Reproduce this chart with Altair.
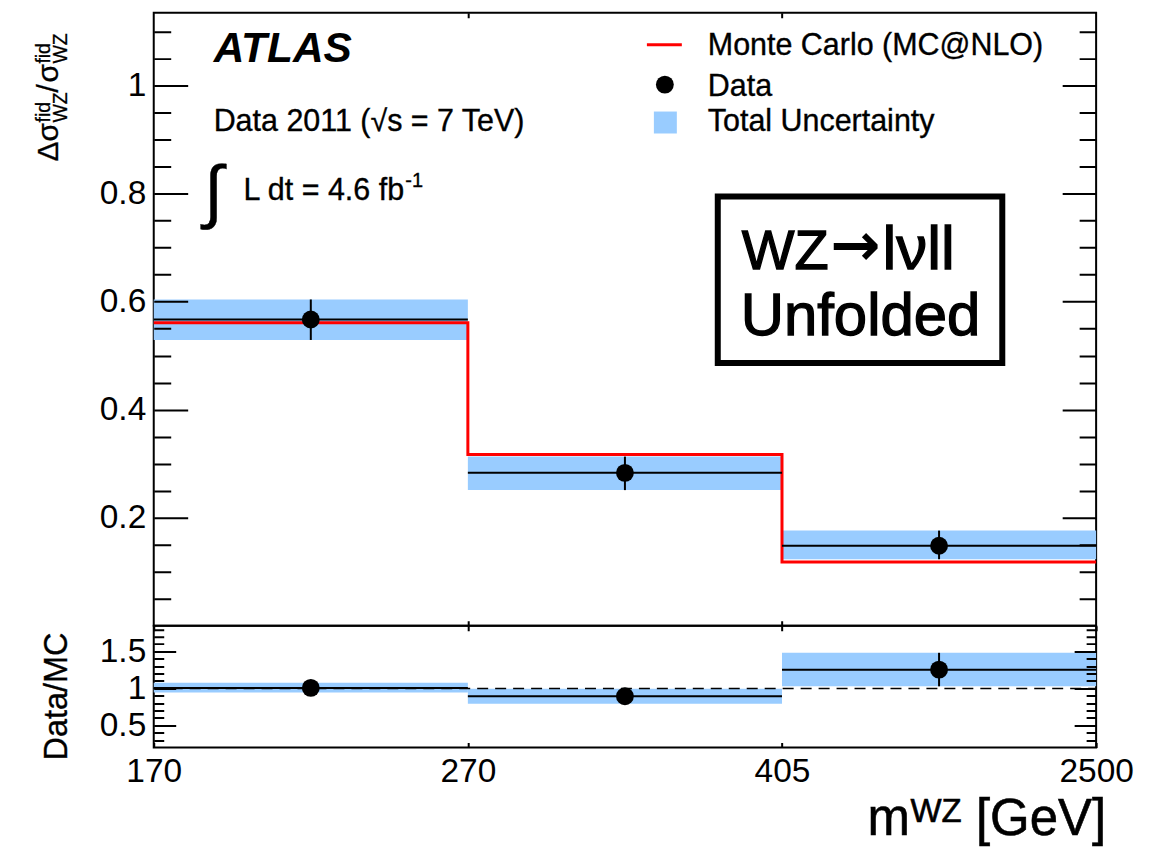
import json
import altair as alt
import pandas as pd

# ---------------- data ----------------
edge_labels = ["170", "270", "405", "2500"]
edges = [0, 1, 2, 3]
bin_lo = [0, 1, 2]
bin_hi = [1, 2, 3]
bin_mid = [0.5, 1.5, 2.5]
data_val = [0.567, 0.283, 0.148]
data_lo = [0.529, 0.251, 0.123]
data_hi = [0.604, 0.313, 0.176]
mc_val = [0.561, 0.317, 0.118]
ratio_val = [1.007, 0.893, 1.254]
ratio_lo = [0.945, 0.793, 1.028]
ratio_hi = [1.078, 0.995, 1.482]
ratio_ref = [1.0]
top_ticks = [0.05, 0.1, 0.15, 0.2, 0.25, 0.3, 0.35, 0.4, 0.45, 0.5, 0.55,
             0.6, 0.65, 0.7, 0.75, 0.8, 0.85, 0.9, 0.95, 1.0, 1.05, 1.1]
ratio_ticks = [0.3, 0.4, 0.5, 0.6, 0.7, 0.8, 0.9, 1.0, 1.1, 1.2, 1.3, 1.4,
               1.5, 1.6, 1.7, 1.8]

# ---------------- layout ----------------
FONT = "Liberation Sans"
W = 944
H_TOP = 614
H_BOT = 122
LEFT = 153
TOP = 11
BOT0 = TOP + H_TOP
BAND = "#99ccff"
LABEL_SIZE = 33.5


def tx(x):
    return x - LEFT


def ty(y):
    return y - TOP


def by(y):
    return y - BOT0


df = pd.DataFrame({"lo": bin_lo, "hi": bin_hi, "mid": bin_mid,
                   "val": data_val, "dlo": data_lo, "dhi": data_hi,
                   "r": ratio_val, "rlo": ratio_lo, "rhi": ratio_hi})
df_mc = pd.DataFrame({"edge": edges, "mc": mc_val + [mc_val[-1]]})
df_ref = pd.DataFrame({"lo": [edges[0]], "hi": [edges[-1]], "ref": ratio_ref})
one = pd.DataFrame({"a": [0]})


def dash(length, size):
    return [size, length - 2 * size, size, 0]


major_top = "abs(datum.value*5 - round(datum.value*5)) < 0.001"
major_ratio = "abs(datum.value*2 - round(datum.value*2)) < 0.001"

xs = alt.Scale(domain=[0, 3], nice=False, zero=False)
ys_top = alt.Scale(domain=[0, 1.135], nice=False, zero=False)
ys_bot = alt.Scale(domain=[0.2, 1.85], nice=False, zero=False)

common_axis = dict(ticks=False, tickSize=0, domain=False, labelOverlap=False,
                   grid=True, gridColor="black", gridWidth=2, gridOpacity=1,
                   labelFont=FONT, labelColor="black", title="", zindex=1)

top_x_axis = alt.Axis(values=[1, 2], labels=False,
                      gridDash=dash(H_TOP, 5), **common_axis)
bot_x_axis = alt.Axis(values=edges, labelFlush=False,
                      labelExpr=json.dumps(edge_labels) + "[datum.value]",
                      labelFontSize=LABEL_SIZE, labelPadding=8,
                      gridDash=dash(H_BOT, 5), **common_axis)
top_y_axis = alt.Axis(values=top_ticks, format="~g",
                      labelExpr=major_top + " ? datum.label : ''",
                      labelFontSize=LABEL_SIZE, labelPadding=8,
                      gridDash={"condition": {"test": major_top, "value": dash(W, 34)},
                                "value": dash(W, 17)},
                      **common_axis)
bot_y_axis = alt.Axis(values=ratio_ticks, format="~g",
                      labelExpr=major_ratio + " ? datum.label : ''",
                      labelFontSize=LABEL_SIZE, labelPadding=8,
                      gridDash={"condition": {"test": major_ratio, "value": dash(W, 22)},
                                "value": dash(W, 10)},
                      **common_axis)


def TX(f):
    return alt.X(f, type="quantitative", scale=xs, axis=top_x_axis)


def TY(f):
    return alt.Y(f, type="quantitative", scale=ys_top, axis=top_y_axis)


def BX(f):
    return alt.X(f, type="quantitative", scale=xs, axis=bot_x_axis)


def BY(f):
    return alt.Y(f, type="quantitative", scale=ys_bot, axis=bot_y_axis)


def txt(s, x, y, size, align="left", angle=0, font=FONT, **kw):
    return alt.Chart(one).mark_text(
        text=s, font=font, fontSize=size, align=align, baseline="alphabetic",
        angle=angle, color="black", **kw
    ).encode(x=alt.value(x), y=alt.value(y))


# ---------------- top panel ----------------
top_bounds = alt.Chart(one).mark_rect(fillOpacity=0, strokeOpacity=0).encode(
    x=alt.value(-LEFT), x2=alt.value(1168 - LEFT), y=alt.value(-TOP), y2=alt.value(H_TOP))

t_band = alt.Chart(df).mark_rect(color=BAND).encode(
    x=TX("lo"), x2="hi", y=TY("dlo"), y2="dhi")
t_mc = alt.Chart(df_mc).mark_line(color="#ff0000", strokeWidth=3,
                                  interpolate="step-after").encode(
    x=TX("edge"), y=TY("mc"))
t_h = alt.Chart(df).mark_rule(color="black", strokeWidth=2).encode(
    x=TX("lo"), x2="hi", y=TY("val"))
t_v = alt.Chart(df).mark_rule(color="black", strokeWidth=2).encode(
    x=TX("mid"), y=TY("dlo"), y2="dhi")
t_pt = alt.Chart(df).mark_circle(size=320, color="black", opacity=1).encode(
    x=TX("mid"), y=TY("val"))

# legend
THIN = dict(stroke="black", strokeWidth=0.35)
leg_line = alt.Chart(one).mark_rule(color="#ff0000", strokeWidth=3).encode(
    x=alt.value(tx(647)), x2=alt.value(tx(682)), y=alt.value(ty(43)))
leg_dot = alt.Chart(one).mark_circle(size=320, color="black", opacity=1).encode(
    x=alt.value(tx(665)), y=alt.value(ty(83)))
leg_sq = alt.Chart(one).mark_rect(color=BAND).encode(
    x=alt.value(tx(654)), x2=alt.value(tx(677)), y=alt.value(ty(110)), y2=alt.value(ty(132)))
leg_t1 = txt("Monte Carlo (MC@NLO)", tx(708), ty(53), 30.5, **THIN)
leg_t2 = txt("Data", tx(708), ty(94), 30.5, **THIN)
leg_t3 = txt("Total Uncertainty", tx(708), ty(129), 30.5, **THIN)

atlas = txt("ATLAS", tx(213), ty(60), 42.5, fontStyle="italic", fontWeight="bold")
data11 = txt("Data 2011 (√s = 7 TeV)", tx(213), ty(129), 30.5, **THIN)
integ = txt("∫", tx(203), ty(214), 70, **THIN)
lumi = txt("L dt = 4.6 fb", tx(243), ty(199), 30.5, **THIN)
lumi_sup = txt("-1", tx(405), ty(186), 20, **THIN)

BOLDISH = dict(stroke="black", strokeWidth=1.3)
box = alt.Chart(one).mark_rect(fillOpacity=0, stroke="black", strokeWidth=6).encode(
    x=alt.value(tx(718)), x2=alt.value(tx(1003)), y=alt.value(ty(195)), y2=alt.value(ty(362)))
box_wz = txt("WZ", tx(829), ty(268), 56, align="right", **BOLDISH)
box_arrow = txt("→", tx(856), ty(264), 60, align="center", font="DejaVu Sans",
                fontWeight="bold")
box_lvll = txt("lνll", tx(883), ty(268), 62, **BOLDISH)
box_t2 = txt("Unfolded", tx(861), ty(334), 60, align="center", **BOLDISH)

# y title (rotated)
YT = dict(stroke="black", strokeWidth=0.3)
yt = [
    txt("Δσ", tx(57), ty(160), 30, angle=270, **YT),
    txt("fid", tx(49), ty(121), 19.5, angle=270, **YT),
    txt("WZ", tx(66), ty(121), 19.5, angle=270, **YT),
    txt("/", tx(57), ty(91), 30, angle=270, **YT),
    txt("σ", tx(57), ty(81), 30, angle=270, **YT),
    txt("fid", tx(49), ty(62), 19.5, angle=270, **YT),
    txt("WZ", tx(66), ty(62), 19.5, angle=270, **YT),
]

top = alt.layer(top_bounds, t_band, t_mc, t_h, t_v, t_pt,
                leg_line, leg_dot, leg_sq, leg_t1, leg_t2, leg_t3,
                atlas, data11, integ, lumi, lumi_sup, box,
                box_wz, box_arrow, box_lvll, box_t2,
                *yt).properties(width=W, height=H_TOP)

# ---------------- ratio panel ----------------
bot_bounds = alt.Chart(one).mark_rect(fillOpacity=0, strokeOpacity=0).encode(
    x=alt.value(-LEFT), x2=alt.value(1168 - LEFT), y=alt.value(0), y2=alt.value(847 - BOT0))
b_band = alt.Chart(df).mark_rect(color=BAND).encode(
    x=BX("lo"), x2="hi", y=BY("rlo"), y2="rhi")
b_ref = alt.Chart(df_ref).mark_rule(color="black", strokeWidth=1.5,
                                    strokeDash=[11, 7]).encode(
    x=BX("lo"), x2="hi", y=BY("ref"))
b_h = alt.Chart(df).mark_rule(color="black", strokeWidth=2).encode(
    x=BX("lo"), x2="hi", y=BY("r"))
b_v = alt.Chart(df).mark_rule(color="black", strokeWidth=2).encode(
    x=BX("mid"), y=BY("rlo"), y2="rhi")
b_pt = alt.Chart(df).mark_circle(size=320, color="black", opacity=1).encode(
    x=BX("mid"), y=BY("r"))

ratio_title = txt("Data/MC", tx(66), by(696), 32.5, align="center", angle=270, **THIN)
XT = dict(stroke="black", strokeWidth=0.6)
xt_m = txt("m", tx(868), by(835), 51, **XT)
xt_sup = txt("WZ", tx(911), by(822), 33, **XT)
xt_gev = txt("[GeV]", tx(1107), by(835), 51, align="right", **XT)

bot = alt.layer(bot_bounds, b_band, b_ref, b_h, b_v, b_pt,
                ratio_title, xt_m, xt_sup, xt_gev).properties(width=W, height=H_BOT)

chart = alt.vconcat(top, bot, spacing=0, bounds="flush").properties(
    padding=0, background="white"
).configure_view(stroke="black", strokeWidth=2)

chart.save("out.html", embed_options={"renderer": "svg", "actions": False})
